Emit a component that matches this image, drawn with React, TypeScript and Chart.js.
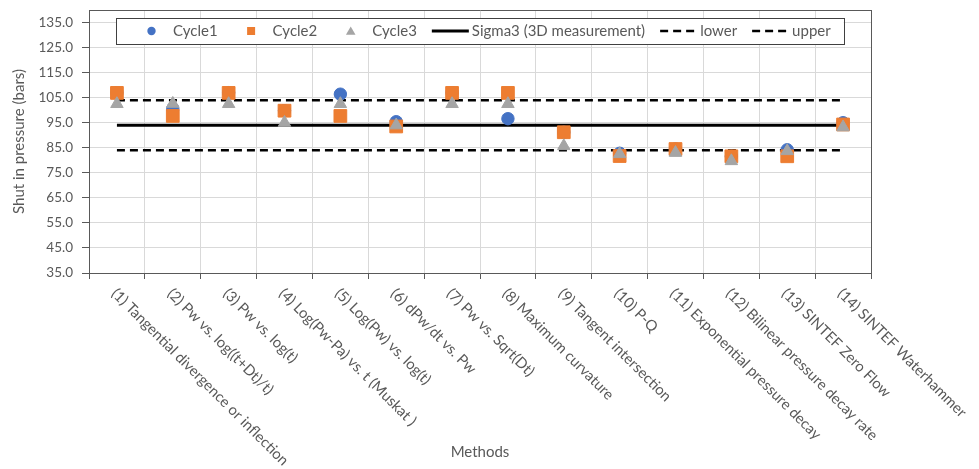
import React, { useEffect, useRef } from "react";
import { Chart, registerables } from "chart.js";

Chart.register(...registerables);

const categories = [
  "(1) Tangential divergence or inflection",
  "(2) Pw vs. log((t+Dt)/t)",
  "(3) Pw vs. log(t)",
  "(4) Log(Pw-Pa) vs. t (Muskat )",
  "(5) Log(Pw) vs. log(t)",
  "(6) dPw/dt vs. Pw",
  "(7) Pw vs. Sqrt(Dt)",
  "(8) Maximum curvature",
  "(9) Tangent intersection",
  "(10) P-Q",
  "(11) Exponential pressure decay",
  "(12) Bilinear pressure decay rate",
  "(13) SINTEF Zero Flow",
  "(14) SINTEF Waterhammer",
];

const cycle1 = [107, 100.6, 107, 99.8, 106.4, 95.4, 107, 96.6, 91.2, 82.8, 84.5, 81.6, 84.2, 95];
const cycle2 = [106.9, 97.7, 106.9, 99.8, 97.7, 93.5, 106.9, 106.9, 91.2, 81.7, 84.5, 81.6, 81.6, 94.3];
const cycle3 = [102.5, 102.6, 102.5, 95, 102.5, 94, 102.5, 102.5, 85.7, 82.5, 83, 79.7, 83.7, 93.2];
const sigma3 = [94, 94, 94, 94, 94, 94, 94, 94, 94, 94, 94, 94, 94, 94];
const lower = [84, 84, 84, 84, 84, 84, 84, 84, 84, 84, 84, 84, 84, 84];
const upper = [104, 104, 104, 104, 104, 104, 104, 104, 104, 104, 104, 104, 104, 104];

const yTickValues = [35, 45, 55, 65, 75, 85, 95, 105, 115, 125, 135];
const yMin = 35;
const yMax = 140;

const FONT = "Lato, 'Liberation Sans', sans-serif";
const TEXT = "#595959";
const BLUE = "#4472C4";
const ORANGE = "#ED7D31";
const GRAY = "#A5A5A5";
const GRID = "#D9D9D9";
const AXIS = "#595959";

export default function App() {
  const ref = useRef<HTMLCanvasElement>(null);

  useEffect(() => {
    const canvas = ref.current;
    if (!canvas) return;

    const framePlugin = {
      id: "frame",
      beforeDatasetsDraw(chart: any) {
        const { ctx, chartArea: ca } = chart;
        ctx.save();
        ctx.strokeStyle = AXIS;
        ctx.lineWidth = 1;
        ctx.beginPath();
        ctx.moveTo(ca.left, ca.top + 0.5);
        ctx.lineTo(ca.right + 1, ca.top + 0.5);
        ctx.moveTo(ca.right + 0.5, ca.top);
        ctx.lineTo(ca.right + 0.5, ca.bottom);
        ctx.stroke();
        ctx.restore();
      },
    };

    const xLabelPlugin = {
      id: "xlabels",
      afterDraw(chart: any) {
        const { ctx, chartArea: ca } = chart;
        const xs = chart.scales.x;
        ctx.save();
        ctx.font = `14.8px ${FONT}`;
        ctx.fillStyle = TEXT;
        ctx.textAlign = "left";
        ctx.textBaseline = "middle";
        categories.forEach((lab, i) => {
          const x = xs.getPixelForValue(i);
          ctx.save();
          ctx.translate(x - 3, ca.bottom + 18);
          ctx.rotate(Math.PI / 4);
          ctx.fillText(lab, 0, 0);
          ctx.restore();
        });
        ctx.restore();
      },
    };

    const legendPlugin = {
      id: "customLegend",
      afterDraw(chart: any) {
        const { ctx, chartArea: ca } = chart;
        const ds = chart.data.datasets;
        ctx.save();
        ctx.font = `15px ${FONT}`;
        const symW = 37;
        const gapT = 3;
        const gapI = 15;
        const padL = 17;
        const padR = 13;
        const left = ca.left + 27;
        const top = ca.top + 8;
        const h = 26;
        let w = padL + padR;
        ds.forEach((d: any, i: number) => {
          w += symW + gapT + ctx.measureText(d.label).width;
          if (i < ds.length - 1) w += gapI;
        });
        ctx.fillStyle = "#fff";
        ctx.fillRect(left, top, w, h);
        ctx.strokeStyle = "#404040";
        ctx.lineWidth = 1;
        ctx.strokeRect(Math.round(left) + 0.5, Math.round(top) + 0.5, Math.round(w), h);
        const cy = top + h / 2;
        let x = left + padL;
        ds.forEach((d: any) => {
          const cx = x + symW / 2;
          ctx.save();
          if (d.showLine === false) {
            ctx.fillStyle = d.backgroundColor;
            ctx.beginPath();
            if (d.pointStyle === "circle") {
              ctx.arc(cx, cy, 4.2, 0, Math.PI * 2);
            } else if (d.pointStyle === "rect") {
              ctx.rect(cx - 4, cy - 4, 8, 8);
            } else {
              ctx.moveTo(cx, cy - 4.5);
              ctx.lineTo(cx + 4.8, cy + 3.8);
              ctx.lineTo(cx - 4.8, cy + 3.8);
              ctx.closePath();
            }
            ctx.fill();
          } else {
            ctx.strokeStyle = d.borderColor;
            ctx.lineWidth = d.borderWidth;
            ctx.setLineDash(d.borderDash || []);
            ctx.beginPath();
            ctx.moveTo(x, cy);
            ctx.lineTo(x + symW, cy);
            ctx.stroke();
          }
          ctx.restore();
          x += symW + gapT;
          ctx.fillStyle = TEXT;
          ctx.textAlign = "left";
          ctx.textBaseline = "middle";
          ctx.fillText(d.label, x, cy + 0.5);
          x += ctx.measureText(d.label).width + gapI;
        });
        ctx.restore();
      },
    };

    const chart = new Chart(canvas, {
      type: "line",
      data: {
        labels: categories,
        datasets: [
          {
            label: "Cycle1",
            data: cycle1,
            showLine: false,
            pointStyle: "circle",
            pointRadius: 6.2,
            pointHoverRadius: 6.2,
            backgroundColor: BLUE,
            borderColor: BLUE,
            pointBorderWidth: 1,
            order: 3,
          },
          {
            label: "Cycle2",
            data: cycle2,
            showLine: false,
            pointStyle: "rect",
            pointRadius: 9,
            pointHoverRadius: 9,
            backgroundColor: ORANGE,
            borderColor: ORANGE,
            pointBorderWidth: 1,
            order: 2,
          },
          {
            label: "Cycle3",
            data: cycle3,
            showLine: false,
            pointStyle: "triangle",
            pointRadius: 7.2,
            pointHoverRadius: 7.2,
            backgroundColor: GRAY,
            borderColor: GRAY,
            pointBorderWidth: 1,
            order: 1,
          },
          {
            label: "Sigma3 (3D measurement)",
            data: sigma3,
            borderColor: "#000000",
            backgroundColor: "#000000",
            borderWidth: 3,
            pointRadius: 0,
            fill: false,
            tension: 0,
            order: 4,
          },
          {
            label: "lower",
            data: lower,
            borderColor: "#000000",
            backgroundColor: "#000000",
            borderWidth: 2.5,
            borderDash: [8, 5],
            pointRadius: 0,
            fill: false,
            tension: 0,
            order: 5,
          },
          {
            label: "upper",
            data: upper,
            borderColor: "#000000",
            backgroundColor: "#000000",
            borderWidth: 2.5,
            borderDash: [8, 5],
            pointRadius: 0,
            fill: false,
            tension: 0,
            order: 6,
          },
        ],
      },
      options: {
        responsive: false,
        animation: false,
        events: [],
        layout: { padding: { left: 0, top: 9, right: 108, bottom: 0 } },
        plugins: {
          legend: { display: false },
          tooltip: { enabled: false },
          title: { display: false },
        },
        scales: {
          x: {
            type: "category",
            offset: true,
            grid: { offset: true, color: GRID, tickColor: AXIS, tickLength: 6, lineWidth: 1 },
            border: { color: AXIS, width: 1 },
            ticks: { display: false },
            title: {
              display: true,
              text: "Methods",
              color: TEXT,
              font: { family: FONT, size: 15 },
              padding: { top: 0, bottom: 8 },
            },
            afterFit: (s: any) => {
              s.height = 196;
              s.paddingLeft = 0;
              s.paddingRight = 0;
            },
          },
          y: {
            type: "linear",
            min: yMin,
            max: yMax,
            afterBuildTicks: (s: any) => {
              s.ticks = yTickValues.map((v) => ({ value: v }));
            },
            ticks: {
              color: TEXT,
              font: { family: FONT, size: 13.5 },
              padding: 9,
              callback: (v: any) => Number(v).toFixed(1),
            },
            grid: { color: GRID, tickColor: AXIS, tickLength: 7, lineWidth: 1 },
            border: { color: AXIS, width: 1 },
            title: {
              display: true,
              text: "Shut in pressure (bars)",
              color: TEXT,
              font: { family: FONT, size: 15 },
              padding: { top: 10, bottom: 0 },
            },
            afterFit: (s: any) => {
              s.width = 89;
              s.paddingTop = 0;
              s.paddingBottom = 0;
            },
          },
        },
      } as any,
      plugins: [framePlugin, legendPlugin, xLabelPlugin],
    });

    return () => {
      chart.destroy();
    };
  }, []);

  return (
    <div style={{ position: "fixed", left: 0, top: 0, width: 979, height: 469, background: "#fff" }}>
      <canvas ref={ref} width={979} height={469} style={{ display: "block" }} />
    </div>
  );
}
